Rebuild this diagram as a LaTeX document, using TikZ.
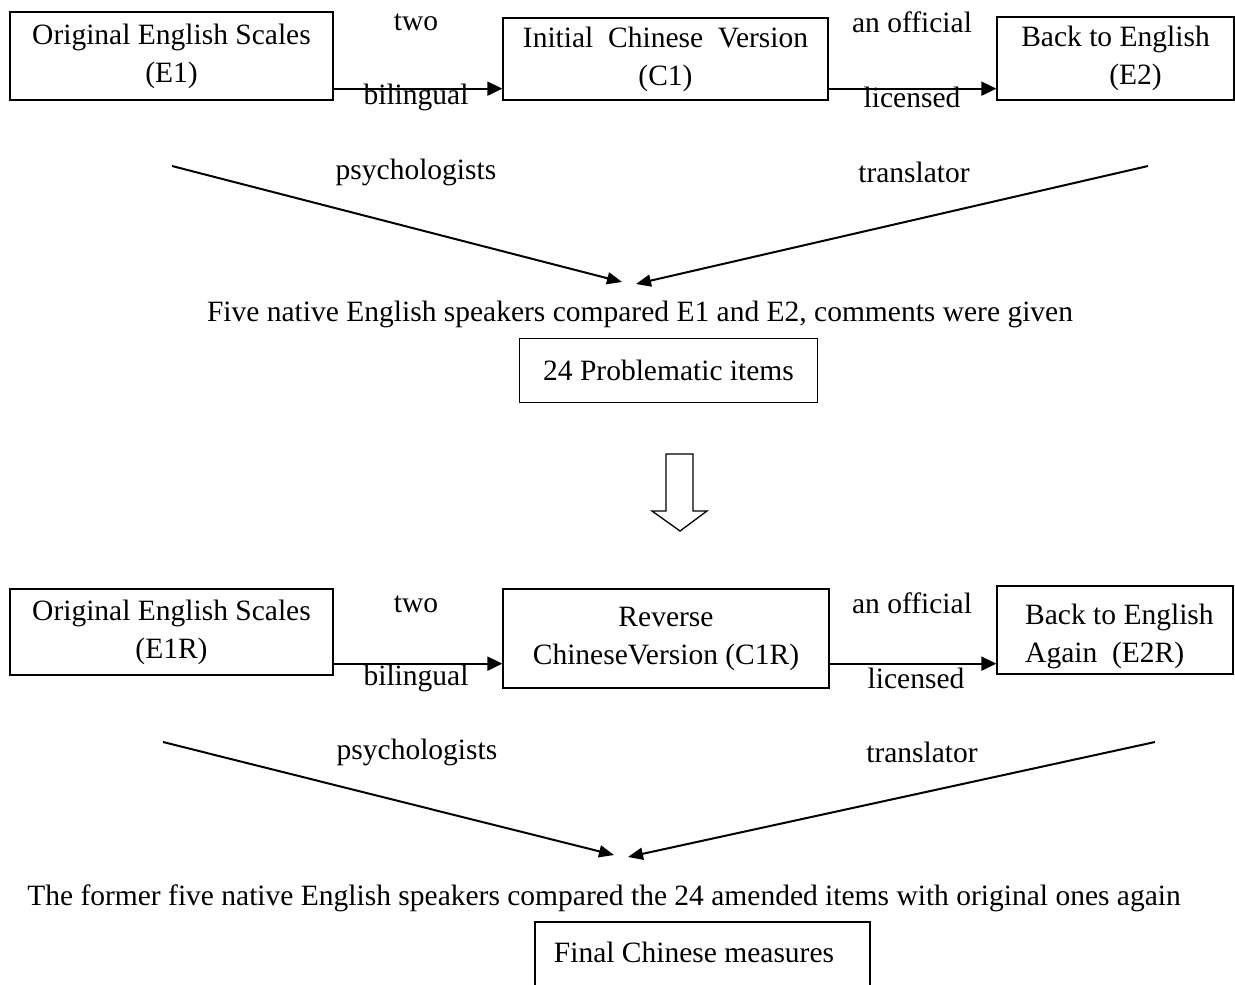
\documentclass[tikz,border=0pt]{standalone}
\usepackage{fontspec}
\setmainfont{Liberation Serif}
\usetikzlibrary{arrows.meta,calc}
\begin{document}
\begin{tikzpicture}[x=1pt,y=-1pt,
  every node/.style={font=\fontsize{29.5}{38}\selectfont, inner sep=0pt},
  box/.style={draw, line width=1.3pt, align=center},
  lbl/.style={anchor=center},
  harr/.style={line width=2pt, -{Triangle[length=15pt,width=14pt]}},
  darr/.style={line width=2pt, -{Triangle[length=15pt,width=12pt]}},
  hollow/.style={draw, line width=1.3pt, fill=white}]
\useasboundingbox (0,0) rectangle (1235,985);

% ---------- top row ----------
\node[box, minimum width=323pt, minimum height=88pt] (e1) at (171.5,56) {Original English Scales\\(E1)};
\node[box, minimum width=325pt, minimum height=82pt] (c1) at (665.5,59) {Initial\ \ Chinese\ \ Version\\(C1)};
\node[box, minimum width=237pt, minimum height=83pt] (e2) at (1115.5,58.5) {Back to English\\\hspace*{40pt}(E2)};

\draw[harr] ([yshift=12pt]e1.south east) -- ([yshift=12pt]e1.south east -| c1.west);
\draw[harr] ([yshift=12pt]c1.south east) -- ([yshift=12pt]c1.south east -| e2.west);

\node[lbl] (t1) at (416,22) {two};
\node[lbl] (t2) at (416,97) {bilingual};
\node[lbl] (t3) at (912,22) {an official};
\node[lbl] (t4) at (912,97) {licensed};
\node[lbl] (t5) at (416,172) {psychologists};
\node[lbl] (t6) at (914,172) {translator};

\coordinate (d1s) at (172,166);
\coordinate (d1e) at (622,282);
\coordinate (d2s) at (1148,166);
\coordinate (d2e) at (636,284);
\draw[darr] (d1s) -- (d1e);
\draw[darr] (d2s) -- (d2e);

\node[lbl] (cmp1) at (640,314) {Five native English speakers compared E1 and E2, comments were given};
\node[box, minimum width=298pt, minimum height=64pt] (p24) at (668.5,370.5) {24 Problematic items};

% hollow arrow
\draw[hollow] (666,454) -- (693,454) -- (693,511) -- (707,511) -- (680,531) -- (652,511) -- (666,511) -- cycle;

% ---------- bottom row ----------
\node[box, minimum width=323pt, minimum height=86pt] (e1r) at (171.5,632) {Original English Scales\\(E1R)};
\node[box, minimum width=326pt, minimum height=99pt] (c1r) at (666,638.5) {Reverse\\ChineseVersion (C1R)};
\node[box, minimum width=236pt, minimum height=88pt] (e2r) at (1115,630) {};
\node[anchor=west, align=left] (e2rt) at (1025,636) {Back to English\\Again\ \ (E2R)};

\draw[harr] ([yshift=12pt]e1r.south east) -- ([yshift=12pt]e1r.south east -| c1r.west);
\draw[harr] ([yshift=12pt]e1r.south east -| c1r.east) -- ([yshift=12pt]e1r.south east -| e2r.west);

\node[lbl] (b1) at (416,604) {two};
\node[lbl] (b2) at (416,678) {bilingual};
\node[lbl] (b3) at (912,603) {an official};
\node[lbl] (b4) at (916,678) {licensed};
\node[lbl] (b5) at (417,752) {psychologists};
\node[lbl] (b6) at (922,752) {translator};

\coordinate (f1s) at (163,742);
\coordinate (f1e) at (614,855);
\coordinate (f2s) at (1155,742);
\coordinate (f2e) at (628,857);
\draw[darr] (f1s) -- (f1e);
\draw[darr] (f2s) -- (f2e);

\node[lbl] (cmp2) at (604,898) {The former five native English speakers compared the 24 amended items with original ones again};
\node[box, minimum width=335pt, minimum height=90pt] (fin) at (702.5,967) {};
\node[lbl] (fint) at (694,952) {Final Chinese measures};
\end{tikzpicture}
\end{document}
